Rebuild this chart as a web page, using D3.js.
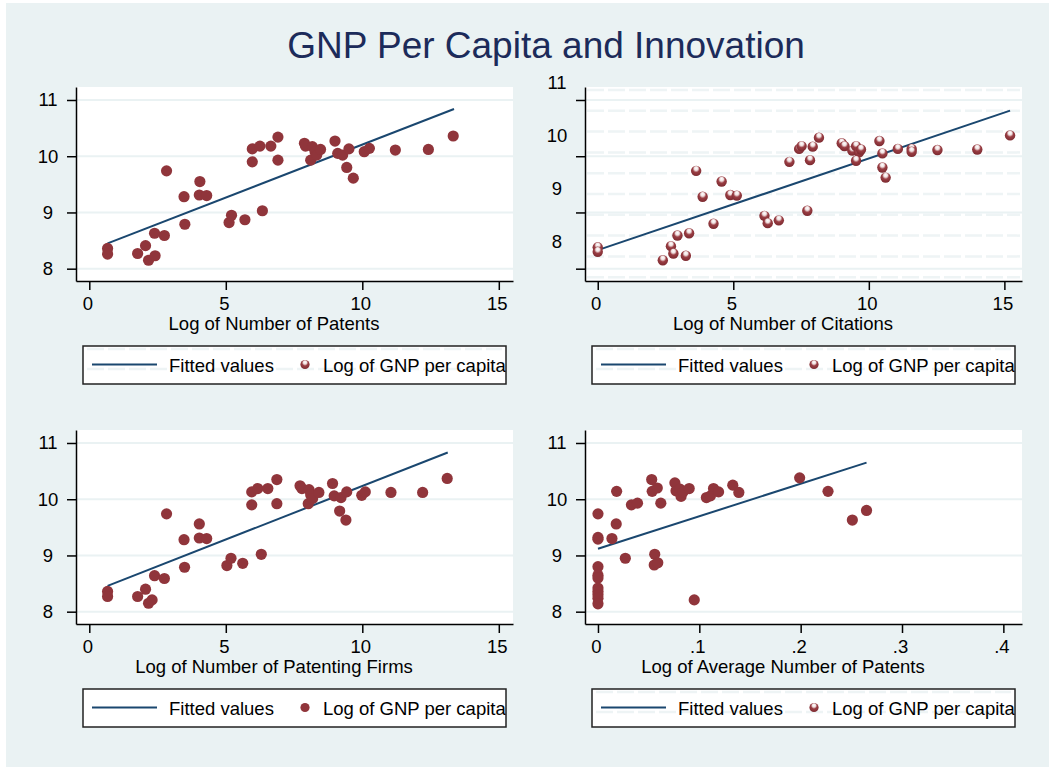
<!DOCTYPE html>
<html>
<head>
<meta charset="utf-8">
<script src="https://cdn.jsdelivr.net/npm/d3@7"></script>
<style>
  body { margin: 0; background: #ffffff; }
  svg text { font-family: "Liberation Sans", Arial, sans-serif; }
</style>
</head>
<body>
<div id="chart"></div>
<script>
// values

const patentsX = [0.67, 0.67, 1.77, 2.06, 2.17, 2.41, 2.39, 2.75, 2.83, 3.47, 3.50, 4.05, 4.03, 4.30,
  5.12, 5.21, 5.70, 6.34, 5.97, 5.97, 6.25, 6.65, 6.91, 6.91, 7.88, 7.92, 8.17, 8.11, 8.27, 8.33,
  8.47, 9.00, 9.10, 9.28, 9.51, 9.43, 9.67, 10.07, 10.26, 11.21, 12.42, 13.33];
const patentsY = [8.36, 8.26, 8.27, 8.41, 8.15, 8.23, 8.63, 8.59, 9.74, 9.28, 8.79, 9.55, 9.31, 9.30,
  8.82, 8.95, 8.87, 9.03, 10.13, 9.90, 10.18, 10.18, 10.34, 9.93, 10.23, 10.18, 10.17, 9.93, 10.08, 10.02,
  10.12, 10.27, 10.05, 10.02, 10.13, 9.80, 9.61, 10.08, 10.14, 10.11, 10.12, 10.36];
const patentsFitX = [0.67, 13.36];
const patentsFitY = [8.45, 10.84];

const citationsX = [0, 0, 2.40, 2.70, 2.79, 2.94, 3.25, 3.37, 3.63, 3.87, 4.27, 4.57, 4.89, 5.13,
  6.15, 6.27, 6.68, 7.73, 7.07, 7.43, 7.52, 7.83, 7.93, 8.16, 9.00, 9.10, 9.39, 9.53, 9.64, 9.71,
  9.53, 10.39, 10.50, 10.50, 10.62, 11.07, 11.58, 11.58, 12.53, 14.00, 15.21];
const citationsY = [8.38, 8.30, 8.15, 8.40, 8.27, 8.59, 8.23, 8.63, 9.74, 9.28, 8.80, 9.55, 9.31, 9.30,
  8.94, 8.81, 8.86, 9.03, 9.90, 10.13, 10.18, 9.93, 10.17, 10.33, 10.23, 10.18, 10.10, 10.18, 10.07, 10.12,
  9.92, 10.27, 10.05, 9.80, 9.62, 10.13, 10.13, 10.08, 10.11, 10.12, 10.37];
const citationsFitX = [0, 15.21];
const citationsFitY = [8.33, 10.81];

const firmsX = [0.67, 0.67, 1.77, 2.06, 2.17, 2.30, 2.39, 2.75, 2.83, 3.47, 3.49, 4.03, 4.03, 4.30,
  5.04, 5.19, 5.62, 6.30, 5.95, 5.95, 6.17, 6.54, 6.87, 6.87, 7.72, 7.79, 8.05, 8.02, 8.11, 8.18,
  8.41, 8.91, 8.97, 9.22, 9.43, 9.17, 9.40, 9.98, 10.11, 11.05, 12.21, 13.11];
const firmsY = [8.36, 8.27, 8.27, 8.40, 8.15, 8.21, 8.64, 8.59, 9.74, 9.28, 8.79, 9.56, 9.31, 9.30,
  8.82, 8.95, 8.86, 9.02, 10.13, 9.90, 10.19, 10.19, 10.35, 9.92, 10.24, 10.19, 10.17, 9.92, 10.08, 10.01,
  10.12, 10.28, 10.06, 10.03, 10.13, 9.79, 9.63, 10.07, 10.13, 10.12, 10.12, 10.37];
const firmsFitX = [0.67, 13.13];
const firmsFitY = [8.46, 10.83];

const avgX = [0, 0, 0, 0, 0, 0, 0, 0, 0, 0, 0, 0.0138, 0.018, 0.0184, 0.027, 0.033, 0.039, 0.053,
  0.0535, 0.0555, 0.056, 0.059, 0.0585, 0.062, 0.0759, 0.077, 0.081, 0.082, 0.084, 0.090, 0.095,
  0.107, 0.111, 0.114, 0.119, 0.133, 0.139, 0.199, 0.227, 0.251, 0.265];
const avgY = [9.74, 9.32, 9.29, 8.80, 8.65, 8.60, 8.42, 8.36, 8.30, 8.24, 8.14, 9.30, 9.56, 10.14,
  8.95, 9.90, 9.93, 10.35, 10.14, 8.83, 9.02, 8.87, 10.20, 9.93, 10.29, 10.15, 10.18, 10.05, 10.13,
  10.19, 8.21, 10.03, 10.06, 10.19, 10.13, 10.25, 10.12, 10.38, 10.14, 9.63, 9.80];
const avgFitX = [0, 0.265];
const avgFitY = [9.12, 10.65];

const yTicks = [8, 9, 10, 11];
const countTicks = [0, 5, 10, 15];
const avgTicks = [0, 0.1, 0.2, 0.3, 0.4];
const avgTickLabels = ['0', '.1', '.2', '.3', '.4'];

const chartTitle = 'GNP Per Capita and Innovation';
const legendLabels = ['Fitted values', 'Log of GNP per capita'];

// layout
const width = 1049, height = 767;
const plotW = 437, plotH = 194;
const lineColor = '#1a476f';
const dotColor = '#90353b';
const bgColor = '#eaf2f3';

const svg = d3.select('#chart').append('svg')
    .attr('width', width)
    .attr('height', height);

const defs = svg.append('defs');
const grad = defs.append('radialGradient')
    .attr('id', 'ball')
    .attr('cx', '50%').attr('cy', '40%').attr('r', '60%')
    .attr('fx', '50%').attr('fy', '22%');
grad.append('stop').attr('offset', '0%').attr('stop-color', '#ffffff');
grad.append('stop').attr('offset', '30%').attr('stop-color', '#f0e2e2');
grad.append('stop').attr('offset', '55%').attr('stop-color', '#9a3e44');
grad.append('stop').attr('offset', '100%').attr('stop-color', '#7c2a30');

svg.append('rect').attr('width', width).attr('height', height).attr('fill', '#ffffff');
svg.append('rect').attr('x', 6).attr('y', 3).attr('width', width - 6).attr('height', height - 3)
    .attr('fill', bgColor);

svg.append('text')
    .attr('x', 546).attr('y', 58)
    .attr('text-anchor', 'middle')
    .attr('font-size', 37)
    .attr('fill', '#1c2b5a')
    .text(chartTitle);

const panels = [
    { x0: 76, y0: 87, xs: patentsX, ys: patentsY, fx: patentsFitX, fy: patentsFitY,
      domain: [-0.487, 15.52], ticks: countTicks, labels: null, title: 'Log of Number of Patents',
      legendTop: 346, ball: false, legendBall: true, pattern: false, legendPattern: true },
    { x0: 585, y0: 87, xs: citationsX, ys: citationsY, fx: citationsFitX, fy: citationsFitY,
      domain: [-0.47, 15.65], ticks: countTicks, labels: null, title: 'Log of Number of Citations',
      legendTop: 346, ball: true, legendBall: true, pattern: true, legendPattern: true,
      labelRange: [242, 83] },
    { x0: 76, y0: 430, xs: firmsX, ys: firmsY, fx: firmsFitX, fy: firmsFitY,
      domain: [-0.487, 15.52], ticks: countTicks, labels: null, title: 'Log of Number of Patenting Firms',
      legendTop: 689, ball: false, legendBall: false, pattern: false, legendPattern: false },
    { x0: 585, y0: 430, xs: avgX, ys: avgY, fx: avgFitX, fy: avgFitY,
      domain: [-0.0128, 0.4184], ticks: avgTicks, labels: avgTickLabels, title: 'Log of Average Number of Patents',
      legendTop: 689, ball: false, legendBall: true, pattern: false, legendPattern: true }
];

function patternRows(g, x1, x2, ys) {
    ys.forEach(y => {
        g.append('line')
            .attr('x1', x1).attr('x2', x2).attr('y1', y).attr('y2', y)
            .attr('stroke', '#eef4f5')
            .attr('stroke-width', 2.5)
            .attr('stroke-dasharray', '17 4');
    });
}

function drawPanel(p, idx) {
    const g = svg.append('g').attr('transform', `translate(${p.x0},${p.y0})`);

    const x = d3.scaleLinear().domain(p.domain).range([0, plotW]);
    const y = d3.scaleLinear().domain([7.781, 11.231]).range([plotH, 0]);

    g.append('rect').attr('width', plotW).attr('height', plotH).attr('fill', '#ffffff');

    if (p.pattern) {
        patternRows(g, 2, plotW - 2, d3.range(3, plotH, 20.8));
    }

    // grid
    g.selectAll('.grid')
        .data(yTicks)
        .enter()
        .append('line')
        .attr('x1', 0).attr('x2', plotW)
        .attr('y1', d => y(d)).attr('y2', d => y(d))
        .attr('stroke', bgColor)
        .attr('stroke-width', 2);

    // axes
    const xAxis = d3.axisBottom(x)
        .tickValues(p.ticks)
        .tickSize(9)
        .tickSizeOuter(0)
        .tickPadding(7)
        .tickFormat((d, i) => p.labels ? p.labels[i] : d);
    const xg = g.append('g').attr('transform', `translate(0,${plotH})`).call(xAxis);
    xg.selectAll('text').attr('font-size', 18.5).attr('fill', '#000').attr('dx', -2);

    const yAxis = d3.axisLeft(y)
        .tickValues(yTicks)
        .tickSize(9)
        .tickSizeOuter(0)
        .tickFormat('');
    const yg = g.append('g').call(yAxis);

    [xg, yg].forEach(a => {
        a.select('.domain').attr('stroke', '#000').attr('stroke-width', 1.5);
        a.selectAll('.tick line').attr('stroke', '#000').attr('stroke-width', 1.5);
    });

    const labelY = p.labelRange
        ? d3.scaleLinear().domain([8, 11]).range(p.labelRange.map(v => v - p.y0))
        : y;
    g.selectAll('.ylab')
        .data(yTicks)
        .enter()
        .append('text')
        .attr('x', -28)
        .attr('y', d => labelY(d))
        .attr('dy', '0.35em')
        .attr('text-anchor', 'middle')
        .attr('font-size', 18.5)
        .text(d => d);

    // axis title sits centred over labels + plot, as in the original
    g.append('text')
        .attr('x', 198)
        .attr('y', plotH + 49)
        .attr('text-anchor', 'middle')
        .attr('font-size', 18.5)
        .text(p.title);

    // fitted line
    const fit = p.fx.map((v, i) => [v, p.fy[i]]);
    g.append('path')
        .datum(fit)
        .attr('fill', 'none')
        .attr('stroke', lineColor)
        .attr('stroke-width', 2)
        .attr('d', d3.line().x(d => x(d[0])).y(d => y(d[1])));

    // points
    const pts = p.xs.map((v, i) => [v, p.ys[i]]);
    g.selectAll('.pt')
        .data(pts)
        .enter()
        .append('circle')
        .attr('cx', d => x(d[0]))
        .attr('cy', d => y(d[1]))
        .attr('r', p.ball ? 5.2 : 5.6)
        .attr('fill', p.ball ? 'url(#ball)' : dotColor);

    // legend
    const bx = p.x0 + 7, by = p.legendTop, bw = 423, bh = 38;
    const clipId = 'legclip' + idx;
    defs.append('clipPath').attr('id', clipId)
        .append('rect').attr('x', bx).attr('y', by).attr('width', bw).attr('height', bh);

    const lg = svg.append('g');
    lg.append('rect')
        .attr('x', bx).attr('y', by).attr('width', bw).attr('height', bh)
        .attr('fill', '#ffffff');
    const inner = lg.append('g').attr('clip-path', `url(#${clipId})`);
    if (p.legendPattern) {
        patternRows(inner, bx + 4, bx + bw - 4, [by + 3, by + 23]);
    }
    inner.append('line')
        .attr('x1', bx + 9).attr('x2', bx + 74)
        .attr('y1', by + 18.5).attr('y2', by + 18.5)
        .attr('stroke', lineColor).attr('stroke-width', 2);
    inner.append('text')
        .attr('x', bx + 86).attr('y', by + 25.5)
        .attr('font-size', 18.5)
        .text(legendLabels[0]);
    inner.append('circle')
        .attr('cx', bx + 222).attr('cy', by + 18.5)
        .attr('r', 4.6)
        .attr('fill', p.legendBall ? 'url(#ball)' : dotColor);
    inner.append('text')
        .attr('x', bx + 240).attr('y', by + 25.5)
        .attr('font-size', 18.5)
        .text(legendLabels[1]);
    lg.append('rect')
        .attr('x', bx).attr('y', by).attr('width', bw).attr('height', bh)
        .attr('fill', 'none')
        .attr('stroke', '#222')
        .attr('stroke-width', 1.5);
}

panels.forEach(drawPanel);
</script>
</body>
</html>
